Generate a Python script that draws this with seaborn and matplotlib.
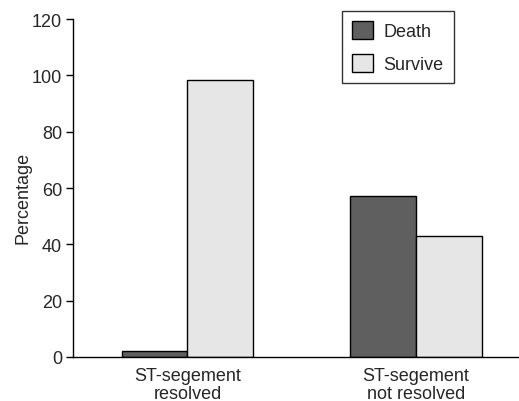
import pandas as pd
import matplotlib.pyplot as plt
import seaborn as sns

# values
groups = ['ST-segement\nresolved', 'ST-segement\nnot resolved']
death = [2.0, 57.2]
survive = [98.4, 43.0]

df = pd.DataFrame({
    'group': groups * 2,
    'outcome': ['Death'] * 2 + ['Survive'] * 2,
    'pct': death + survive,
})

sns.set_style('white')
plt.rcParams['font.family'] = ['Liberation Sans', 'DejaVu Sans']
plt.rcParams['font.size'] = 13

fig = plt.figure(figsize=(5.19, 4.02), dpi=100)
ax = fig.add_axes([0.1407, 0.1095, 0.8593, 0.8407])

sns.barplot(data=df, x='group', y='pct', hue='outcome',
            palette={'Death': '#5f5f5f', 'Survive': '#e6e6e6'},
            edgecolor='black', linewidth=1.0, width=0.575, ax=ax)

ax.set_xlim(-0.5, 1.45)
ax.set_ylim(0, 120)
ax.set_yticks(range(0, 121, 20))
ax.set_ylabel('Percentage', fontsize=13)
ax.yaxis.set_label_coords(-0.092, 0.473)
ax.set_xlabel('')

# group labels without ticks, separator ticks between groups
ax.set_xticks([0, 1])
ax.set_xticklabels(groups, linespacing=1.1)
ax.tick_params(axis='x', which='major', length=0, pad=7)
ax.set_xticks([-0.5, 0.5], minor=True)
ax.tick_params(axis='x', which='minor', length=5, width=1, direction='out', color='black')
ax.tick_params(axis='y', length=5, width=1, direction='out', color='black', left=True, pad=3)

sns.despine(ax=ax)
for s in ['left', 'bottom']:
    ax.spines[s].set_color('black')
    ax.spines[s].set_linewidth(1)

leg = ax.legend(loc='upper left', bbox_to_anchor=(0.603, 1.024), fancybox=False,
                frameon=True, edgecolor='black', fontsize=13,
                handlelength=1.15, handleheight=1.15, labelspacing=0.8,
                borderpad=0.55, handletextpad=0.6, borderaxespad=0)
leg.get_frame().set_linewidth(1)
leg.set_title(None)

plt.savefig('out.png', dpi=100)
plt.close()
